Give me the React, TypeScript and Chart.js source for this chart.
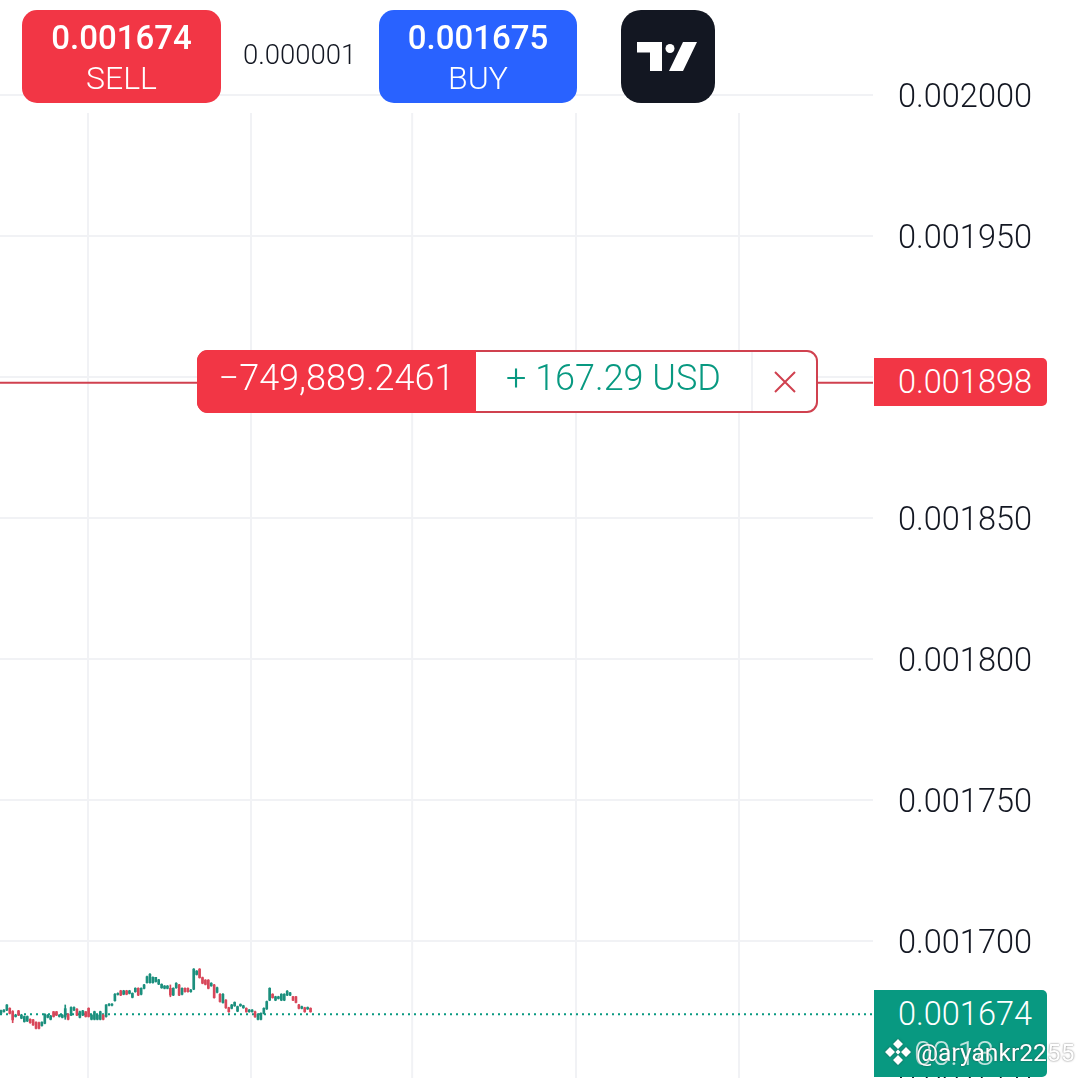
import React, { useEffect, useRef } from "react";
import { Chart, registerables } from "chart.js";

Chart.register(...registerables);

// Prices are in millionths of a USD (1674.1 = 0.0016741)
const opens = [1674.3,1674.9,1675.5,1676.1,1675.0,1673.2,1675.2,1672.6,1671.4,1671.6,1672.2,1672.0,1671.2,1671.0,1670.0,1670.8,1672.9,1672.2,1674.9,1674.9,1673.2,1672.9,1673.0,1674.0,1673.7,1675.5,1675.8,1672.9,1673.7,1674.9,1676.1,1672.2,1672.2,1672.2,1672.2,1673.7,1673.2,1677.2,1677.2,1678.8,1681.0,1682.3,1681.1,1682.3,1681.4,1680.0,1682.0,1683.2,1681.1,1683.2,1685.2,1685.2,1685.2,1685.6,1684.7,1683.4,1683.2,1683.2,1683.2,1680.8,1683.4,1684.4,1681.1,1683.2,1683.2,1682.0,1682.9,1688.1,1690.0,1687.0,1686.1,1686.1,1684.1,1684.4,1681.8,1681.1,1678.1,1679.0,1676.3,1676.1,1677.0,1675.1,1677.0,1676.3,1676.1,1674.9,1674.9,1674.9,1672.2,1672.2,1674.3,1675.9,1679.0,1681.1,1679.0,1679.6,1679.0,1679.0,1680.8,1680.8,1680.2,1680.2,1677.3,1676.1,1676.3,1675.9,1676.1];
const highs = [1675.5,1675.7,1677.4,1676.3,1675.3,1674.0,1675.4,1674.0,1673.4,1673.4,1672.4,1672.2,1671.3,1671.2,1671.3,1674.2,1673.9,1673.6,1675.0,1675.0,1673.9,1673.9,1677.3,1674.2,1676.6,1676.6,1676.0,1675.1,1675.4,1675.0,1676.3,1673.9,1675.1,1673.9,1675.1,1673.9,1677.4,1677.8,1677.8,1681.3,1681.6,1682.5,1682.5,1682.5,1682.5,1681.6,1683.4,1683.4,1683.4,1684.6,1687.5,1688.4,1687.3,1687.1,1686.4,1684.8,1684.2,1684.2,1684.4,1683.4,1685.2,1684.6,1683.4,1683.4,1683.4,1682.8,1690.2,1689.5,1690.2,1687.2,1686.3,1686.3,1685.2,1684.6,1683.6,1681.3,1681.3,1679.2,1676.5,1677.5,1678.4,1676.9,1677.7,1677.2,1676.3,1675.7,1675.7,1675.1,1674.2,1674.5,1676.3,1678.7,1683.4,1681.3,1680.4,1680.4,1681.3,1681.3,1682.4,1681.8,1680.4,1680.4,1677.5,1676.9,1676.5,1676.6,1676.3];
const lows = [1674.1,1674.7,1675.3,1674.1,1671.0,1673.0,1673.5,1672.4,1671.2,1671.4,1670.8,1670.0,1668.8,1668.8,1669.8,1670.6,1672.7,1672.0,1673.0,1673.5,1673.0,1672.7,1672.2,1672.0,1673.5,1675.3,1673.5,1672.7,1673.5,1673.0,1673.0,1672.0,1672.0,1672.0,1672.0,1672.0,1673.0,1677.0,1677.0,1678.6,1680.8,1680.6,1680.9,1680.9,1681.2,1679.8,1681.8,1680.6,1680.9,1683.0,1685.0,1685.0,1685.0,1685.4,1684.5,1683.2,1683.0,1683.0,1680.2,1680.6,1683.2,1680.6,1680.9,1681.8,1681.8,1681.8,1682.7,1687.9,1686.8,1684.8,1684.4,1683.0,1683.9,1679.7,1681.6,1678.3,1677.9,1676.1,1674.7,1675.9,1676.8,1674.9,1676.8,1676.1,1674.7,1674.7,1674.7,1672.9,1672.0,1672.0,1674.1,1675.7,1678.8,1679.7,1678.8,1679.4,1678.8,1678.8,1680.6,1680.6,1678.8,1678.0,1675.9,1675.9,1674.7,1675.7,1674.7];
const closes = [1675.3,1675.5,1677.3,1674.3,1672.0,1673.7,1673.7,1673.7,1673.2,1673.2,1671.0,1670.2,1669.0,1669.0,1671.2,1674.0,1673.7,1673.4,1673.2,1673.7,1673.7,1673.7,1676.0,1672.2,1676.4,1676.4,1673.7,1674.9,1675.2,1673.2,1673.2,1673.7,1674.9,1673.7,1674.9,1672.2,1677.3,1677.6,1677.6,1681.1,1681.4,1680.8,1682.3,1681.1,1682.3,1681.4,1683.2,1680.8,1683.2,1684.4,1687.3,1688.2,1687.1,1687.1,1686.2,1684.6,1684.0,1684.0,1680.8,1683.2,1685.0,1680.8,1683.2,1682.0,1682.0,1682.6,1690.0,1689.3,1687.0,1685.0,1684.6,1683.2,1685.0,1679.9,1683.4,1678.5,1681.1,1676.3,1674.9,1677.3,1678.2,1676.7,1677.5,1677.0,1674.9,1675.5,1675.5,1673.1,1674.0,1674.3,1676.1,1678.5,1683.2,1679.9,1680.2,1680.2,1681.1,1681.1,1682.2,1681.6,1679.0,1678.2,1676.1,1676.7,1674.9,1676.4,1674.9];
const priceTicks = [2000, 1950, 1900, 1850, 1800, 1750, 1700, 1650];
const timeGridPositions = [29.8, 85.6, 140.8, 196.9, 252.7];
const orderPrice = [1898];
const lastPrice = [1674];

const UP = "#089981";
const DOWN = "#F23645";
const CANDLE_UP = "#1B8F7D";
const CANDLE_DOWN = "#D8475A";
const GRID = "#F1F2F5";
const FONT = "Roboto, sans-serif";
const X_MIN = -0.34;
const X_MAX = 298.6;

const fmt = (v: number) => (v / 1e6).toFixed(6);

const box = (s: React.CSSProperties): React.CSSProperties => ({ position: "absolute", boxSizing: "border-box", fontFamily: FONT, ...s });
const centered: React.CSSProperties = { position: "absolute", left: 0, right: 0, textAlign: "center", whiteSpace: "nowrap" };

function Button({ left, width, bg, price, label }: { left: number; width: number; bg: string; price: string; label: string }) {
  return (
    <div style={box({ left, top: 10, width, height: 93, background: bg, borderRadius: 15, color: "#fff" })}>
      <div style={{ ...centered, top: 9, fontSize: 33, lineHeight: "38px", fontWeight: 500 }}>{price}</div>
      <div style={{ ...centered, top: 50, fontSize: 32, lineHeight: "36px", fontWeight: 300 }}>{label}</div>
    </div>
  );
}

export default function App() {
  const ref = useRef<HTMLCanvasElement>(null);
  useEffect(() => {
    const colors = opens.map((o, i) => (closes[i] >= o ? CANDLE_UP : CANDLE_DOWN));
    const vGrid = {
      id: "vGrid",
      beforeDraw(c: any) {
        c.scales.y.getLabelItems().forEach((it: any) => {
          if (!it._shifted) {
            it.options.translation[1] += 4;
            it._shifted = true;
          }
        });
      },
      beforeDatasetsDraw(c: any) {
        const { ctx, scales, chartArea } = c;
        ctx.save();
        ctx.strokeStyle = GRID;
        ctx.lineWidth = 2;
        timeGridPositions.forEach((t) => {
          const x = scales.x.getPixelForValue(t);
          ctx.beginPath();
          ctx.moveTo(x, 113);
          ctx.lineTo(x, chartArea.bottom);
          ctx.stroke();
        });
        ctx.restore();
      },
    };
    const chart = new Chart(ref.current!, {
      type: "bar",
      data: {
        datasets: [
          {
            type: "bar",
            data: opens.map((o, i) => ({ x: i, y: [o, closes[i]] })),
            backgroundColor: colors,
            barThickness: 2,
            grouped: false,
            borderWidth: 0,
            order: 1,
          },
          {
            type: "bar",
            data: opens.map((_, i) => ({ x: i, y: [lows[i], highs[i]] })),
            backgroundColor: colors,
            barThickness: 1,
            grouped: false,
            borderWidth: 0,
            order: 2,
          },
          {
            type: "line",
            data: [{ x: X_MIN, y: lastPrice[0] }, { x: X_MAX, y: lastPrice[0] }],
            borderColor: UP,
            borderWidth: 2,
            borderDash: [2, 4],
            pointRadius: 0,
            order: 3,
          },
          {
            type: "line",
            data: [{ x: X_MIN, y: orderPrice[0] }, { x: X_MAX, y: orderPrice[0] }],
            borderColor: "#D0414F",
            borderWidth: 2,
            pointRadius: 0,
            order: 4,
          },
        ] as any,
      },
      options: {
        animation: false,
        responsive: false,
        devicePixelRatio: 1,
        layout: { padding: 0, autoPadding: false },
        plugins: { legend: { display: false }, tooltip: { enabled: false } },
        scales: {
          x: {
            type: "linear",
            min: X_MIN,
            max: X_MAX,
            offset: false,
            display: true,
            grid: { display: false },
            border: { display: false },
            ticks: { display: false },
            afterFit(s: any) { s.height = 0; s.paddingLeft = 0; s.paddingRight = 0; },
          },
          y: {
            position: "right",
            min: 1636.5,
            max: 2033.7,
            afterFit(s: any) { s.width = 207; s.paddingTop = 0; s.paddingBottom = 0; },
            afterBuildTicks(s: any) { s.ticks = priceTicks.map((value) => ({ value })); },
            grid: { color: GRID, lineWidth: 2, drawTicks: false },
            border: { display: false },
            ticks: {
              autoSkip: false,
              padding: 25,
              color: "#131722",
              font: { family: FONT, size: 32.5, weight: "300" },
              callback: (v: any) => fmt(Number(v)),
            },
          },
        },
      } as any,
      plugins: [vGrid],
    });
    return () => chart.destroy();
  }, []);

  return (
    <div style={{ position: "fixed", left: 0, top: 0, width: 1080, height: 1078, overflow: "hidden", background: "#fff" }}>
      <canvas ref={ref} width={1080} height={1120} style={{ display: "block", position: "absolute", left: 0, top: 0 }} />

      <Button left={22} width={199} bg={DOWN} price="0.001674" label="SELL" />
      <div style={box({ left: 243, top: 38, fontSize: 27.5, lineHeight: "34px", color: "#131722", fontWeight: 300 })}>0.000001</div>
      <Button left={379} width={198} bg="#2962FF" price="0.001675" label="BUY" />

      <div style={box({ left: 621, top: 10, width: 94, height: 93, background: "#131722", borderRadius: 20 })}>
        <svg width={94} height={93} style={{ display: "block" }}>
          <path d="M16 32H41V61H29V42.5H16Z M62 32H76L62 61H48Z" fill="#fff" />
          <circle cx={49} cy={38.5} r={4.5} fill="#fff" />
        </svg>
      </div>

      <div style={box({ left: 197, top: 350, width: 621, height: 63, background: "#fff", border: "2px solid #D0414F", borderRadius: 11 })} />
      <div style={box({ left: 197, top: 350, width: 279, height: 63, background: DOWN, borderRadius: "11px 0 0 11px", color: "#fff", fontSize: 36, lineHeight: "56px", fontWeight: 300, textAlign: "center", whiteSpace: "nowrap" })}>−749,889.2461</div>
      <div style={box({ left: 476, top: 352, width: 277, height: 59, color: UP, fontSize: 36, lineHeight: "52px", fontWeight: 300, textAlign: "center", whiteSpace: "nowrap", borderRight: "2px solid #F1F2F5" })}>+ 167.29 USD</div>
      <svg width={26} height={26} style={{ position: "absolute", left: 772, top: 369 }}>
        <path d="M3 3L23 23M23 3L3 23" stroke="#D0414F" strokeWidth={2} fill="none" />
      </svg>

      <div style={box({ left: 874, top: 358, width: 173, height: 48, background: DOWN, borderRadius: "0 5px 5px 0", color: "#fff", fontSize: 32.5, lineHeight: "48px", fontWeight: 300, paddingLeft: 24, whiteSpace: "nowrap" })}>{fmt(orderPrice[0])}</div>

      <div style={box({ left: 874, top: 990, width: 173, height: 87, background: UP, borderRadius: "0 5px 5px 0", color: "#fff", whiteSpace: "nowrap" })}>
        <div style={{ position: "absolute", left: 24, top: 4, fontSize: 32.5, lineHeight: "40px", fontWeight: 300 }}>{fmt(lastPrice[0])}</div>
        <div style={{ position: "absolute", left: 40, top: 44, fontSize: 33, lineHeight: "40px", fontWeight: 300, opacity: 0.75 }}>00:18</div>
      </div>

      <svg width={30} height={30} viewBox="0 0 30 30" style={{ position: "absolute", left: 883, top: 1037, filter: "drop-shadow(0 0 1px rgba(60,60,60,.6))" }}>
        <path d="M15 2L20 7L15 12L10 7Z M7 10L12 15L7 20L2 15Z M23 10L28 15L23 20L18 15Z M15 18L20 23L15 28L10 23Z M15 12.5L17.5 15L15 17.5L12.5 15Z" fill="#fff" />
      </svg>
      <div style={box({ left: 916, top: 1036, fontSize: 24.6, lineHeight: "34px", color: "#fff", whiteSpace: "nowrap", textShadow: "0 0 2px rgba(50,50,50,.75)" })}>@aryankr2255</div>
    </div>
  );
}
